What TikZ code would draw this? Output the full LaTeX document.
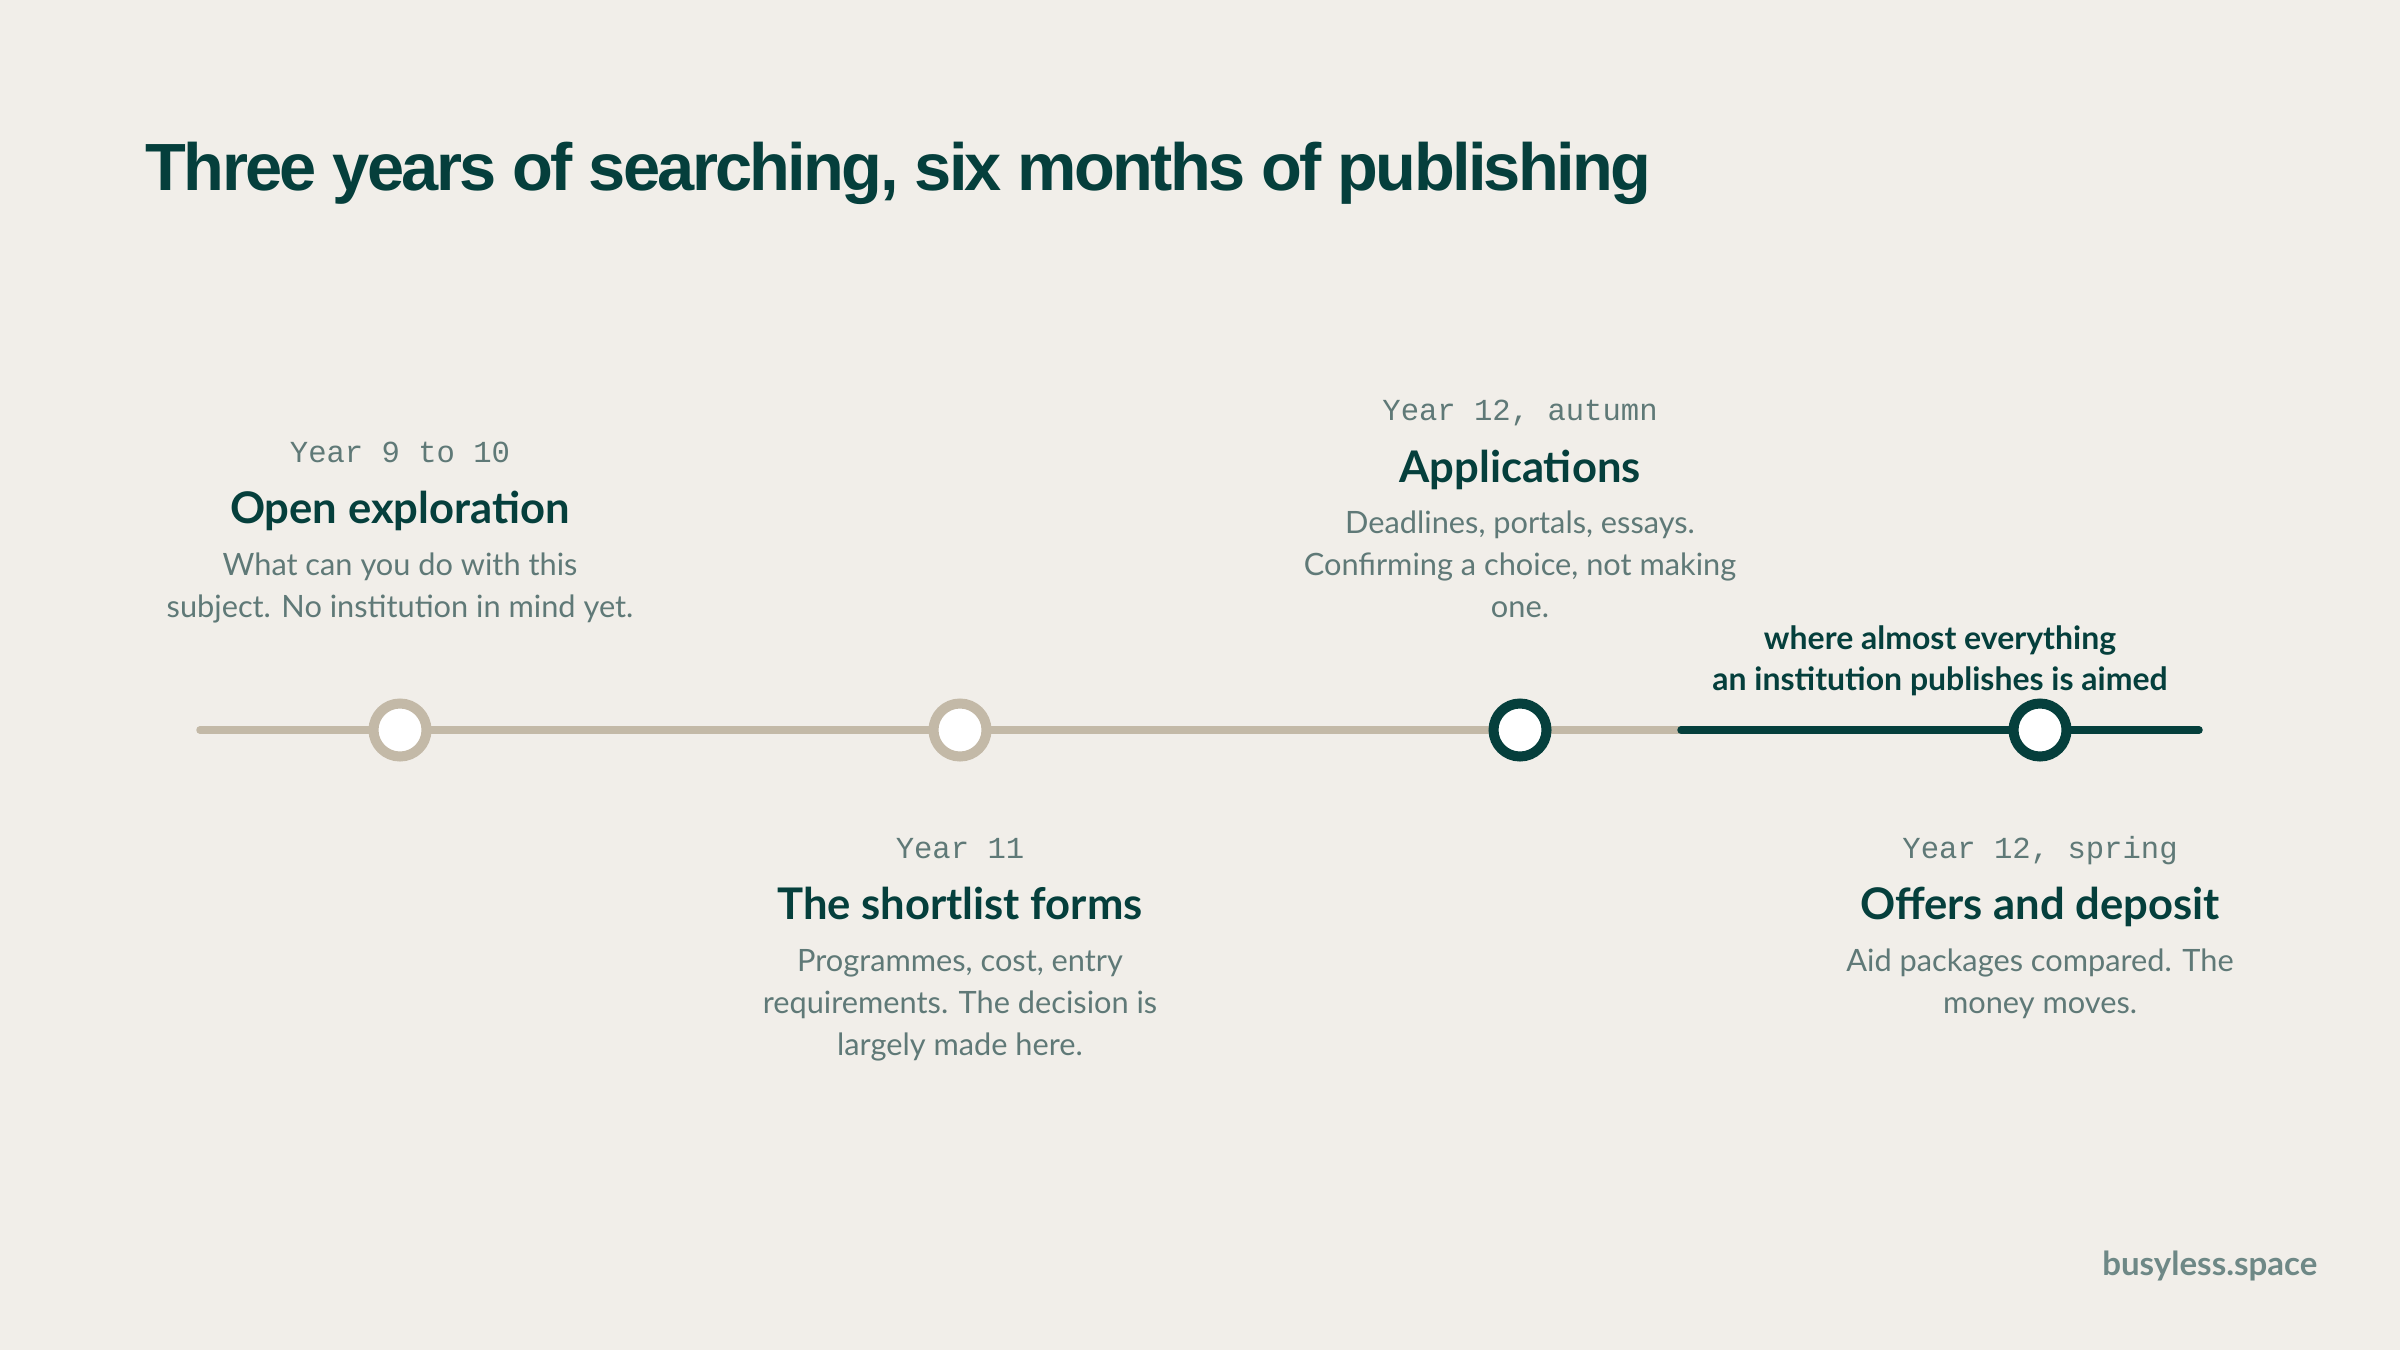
\documentclass[tikz,border=0pt]{standalone}
\usepackage{fontspec}
\setmainfont{Lato}
\newfontfamily\titlefont{Liberation Sans}[LetterSpace=-4]
\newfontfamily\yearfont{Liberation Mono}
\definecolor{paper}{HTML}{F1EEE9}
\definecolor{ink}{HTML}{053F3C}
\definecolor{sand}{HTML}{C3B9A7}
\definecolor{slate}{HTML}{5F7977}
\definecolor{mist}{HTML}{6E8886}

\begin{document}
\begin{tikzpicture}[x = 0.1mm, y = -0.1mm,
		when/.style = {font = \yearfont\fontsize{8.7}{10}\selectfont, text = slate, anchor = base, inner sep = 0},
		heading/.style = {font = \bfseries\fontsize{12.4}{14}\selectfont, text = ink, anchor = base, inner sep = 0},
		blurb/.style = {font = \fontsize{8.75}{11.95}\selectfont, text = slate, align = center, anchor = base, inner sep = 0},
		milestone/.style = {circle, minimum size = 5.3mm, inner sep = 0, line width = 1mm, fill = white},
		rail/.style = {line width = 0.75mm, line cap = round}]
		\def\railY{730};
		\def\up{462};
		\def\low{858};
		
		\fill [paper] (0,0) rectangle (2400,1350);
		
		\node (title) at (145,191) [anchor = base west, inner sep = 0, text = ink, font = \titlefont\bfseries\fontsize{19}{22}\selectfont] {Three years of searching, six months of publishing};
		
		\coordinate (rail start) at (200,\railY);
		\coordinate (rail split) at (1681,\railY);
		\coordinate (rail end) at (2199,\railY);
		
		\draw [rail, sand] (rail start) -- (rail split);
		\draw [rail, ink] (rail split) -- (rail end);
		
		\node (dot1) at (400,\railY) [milestone, draw = sand] {};
		\node (dot2) at (960,\railY) [milestone, draw = sand] {};
		\node (dot3) at (1520,\railY) [milestone, draw = ink] {};
		\node (dot4) at (2040,\railY) [milestone, draw = ink] {};
		
		% above the line (blurbs sit on their last line)
		\node (year1) at (400,\up) [when] {Year 9 to 10};
		\node (head1) at (400,523) [heading] {Open exploration};
		\node (text1) at (400,617) [blurb] {What can you do with this\\subject. No institution in mind yet.};
		
		\node (year3) at (1520,420) [when] {Year 12, autumn};
		\node (head3) at (1520,482) [heading] {Applications};
		\node (text3) at (1520,617) [blurb] {Deadlines, portals, essays.\\Confirming a choice, not making\\one.};
		
		% below the line
		\node (year2) at (960,\low) [when] {Year 11};
		\node (head2) at (960,919) [heading] {The shortlist forms};
		\node (text2) at (960,1055) [blurb] {Programmes, cost, entry\\requirements. The decision is\\largely made here.};
		
		\node (year4) at (2040,\low) [when] {Year 12, spring};
		\node (head4) at (2040,919) [heading] {Offers and deposit};
		\node (text4) at (2040,1013) [blurb] {Aid packages compared. The\\money moves.};
		
		\node (aimed) at (1940,690) [blurb, text = ink, font = \bfseries\fontsize{9.1}{11.4}\selectfont] {where almost everything\\an institution publishes is aimed};
		
		\node (site) at (2318,1275) [anchor = base east, inner sep = 0, text = mist, font = \bfseries\fontsize{9.4}{11}\selectfont] {busyless.space};
	\end{tikzpicture}
\end{document}
